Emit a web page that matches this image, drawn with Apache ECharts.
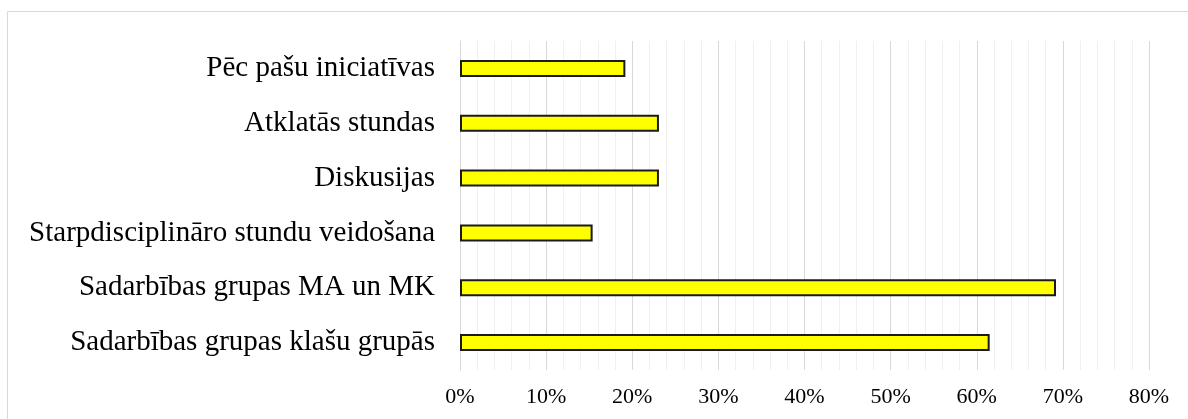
<!DOCTYPE html>
<html>
<head>
<meta charset="utf-8">
<script src="https://cdn.jsdelivr.net/npm/echarts@6/dist/echarts.min.js"></script>
<style>
  html, body { margin: 0; padding: 0; background: #fff; }
  #chart { width: 1188px; height: 419px; }
</style>
</head>
<body>
<div id="chart"></div>
<script>
// kategorijas no apakšas uz augšu (ECharts kategoriju ass sākas apakšā)
var categories = [
    'Sadarbības grupas klašu grupās',
    'Sadarbības grupas MA un MK',
    'Starpdisciplināro stundu veidošana',
    'Diskusijas',
    'Atklatās stundas',
    'Pēc pašu iniciatīvas'
];
var values = [61.5, 69.2, 15.4, 23.1, 23.1, 19.2];
var xTicks = [0, 10, 20, 30, 40, 50, 60, 70, 80];

var myChart = echarts.init(document.getElementById('chart'));

var option = {
    animation: false,
    textStyle: { fontFamily: 'Liberation Serif' },
    graphic: [{
        type: 'rect',
        shape: { x: 7.5, y: 11.5, width: 1300, height: 500 },
        style: { fill: 'none', stroke: '#d9d9d9', lineWidth: 1 },
        silent: true
    }],
    grid: { left: 460, right: 39, top: 41, bottom: 49 },
    xAxis: {
        type: 'value',
        min: xTicks[0],
        max: xTicks[xTicks.length - 1],
        interval: 10,
        axisLine: { show: false },
        axisTick: { show: false },
        axisLabel: {
            formatter: '{value}%',
            color: '#000',
            fontSize: 22,
            fontFamily: 'Liberation Serif',
            margin: 16
        },
        splitLine: { show: true, lineStyle: { color: '#d9d9d9', width: 1 } },
        minorTick: { show: false, splitNumber: 5 },
        minorSplitLine: { show: true, lineStyle: { color: '#f0f0f0', width: 1 } }
    },
    yAxis: {
        type: 'category',
        data: categories,
        axisLine: { show: true, lineStyle: { color: '#d9d9d9', width: 1 } },
        axisTick: { show: false },
        axisLabel: {
            color: '#000',
            fontSize: 29,
            fontFamily: 'Liberation Serif',
            margin: 25
        },
        splitLine: { show: false }
    },
    series: [{
        type: 'bar',
        data: values,
        barWidth: 17,
        itemStyle: {
            color: '#ffff00',
            borderColor: '#1a1a1a',
            borderWidth: 2
        }
    }]
};

myChart.setOption(option);
</script>
</body>
</html>
